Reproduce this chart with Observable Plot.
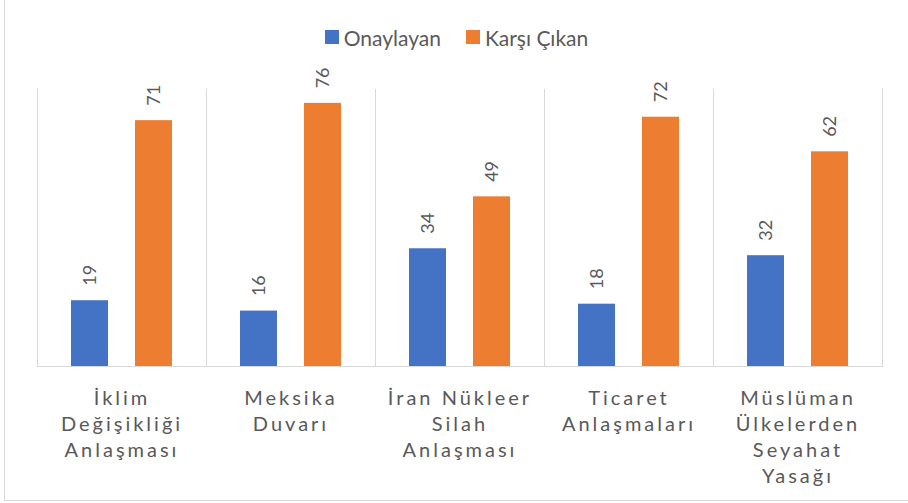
<!DOCTYPE html>
<html>
<head>
<meta charset="utf-8">
<script src="https://cdn.jsdelivr.net/npm/d3@7"></script>
<script src="https://cdn.jsdelivr.net/npm/@observablehq/plot@0.6"></script>
<style>
  html, body { margin: 0; padding: 0; background: #fff; overflow: hidden; }
  #wrap {
    position: absolute; left: 4px; top: 0; width: 920px; height: 501px;
    border-left: 1px solid #d9d9d9; border-bottom: 1px solid #d9d9d9;
    box-sizing: border-box; font-family: Lato, sans-serif;
  }
  #legend {
    height: 46px; padding-top: 14px; display: flex; justify-content: center;
    align-items: center; color: #595959; font-size: 21px; width: 903px;
  }
  .item { display: flex; align-items: center; }
  .item + .item { margin-left: 25px; }
  .sw { width: 14px; height: 14px; margin-right: 5px; }
  #chart svg { display: block; }
  g[font-size="20"] text { letter-spacing: 3px; }
</style>
</head>
<body>
<div id="wrap">
  <div id="legend"></div>
  <div id="chart"></div>
</div>
<script>
const categories = ["İklim Değişikliği Anlaşması", "Meksika Duvarı", "İran Nükleer Silah Anlaşması", "Ticaret Anlaşmaları", "Müslüman Ülkelerden Seyahat Yasağı"];
const tickLabels = ["İklim\nDeğişikliği\nAnlaşması", "Meksika\nDuvarı", "İran Nükleer\nSilah\nAnlaşması", "Ticaret\nAnlaşmaları", "Müslüman\nÜlkelerden\nSeyahat\nYasağı"];
const series = ["Onaylayan", "Karşı Çıkan"];
const approve = [19, 16, 34, 18, 32];
const oppose = [71, 76, 49, 72, 62];
const colors = ["#4472C4", "#ED7D31"];

const rows = categories.flatMap((c, i) => [
  {category: c, series: series[0], value: approve[i]},
  {category: c, series: series[1], value: oppose[i]}
]);

const legend = document.getElementById("legend");
series.forEach((s, i) => {
  const it = document.createElement("div");
  it.className = "item";
  it.innerHTML = `<div class="sw" style="background:${colors[i]}"></div><span>${s}</span>`;
  legend.appendChild(it);
});

const grid = "#d9d9d9";
const plot = Plot.plot({
  width: 903,
  height: 439,
  marginTop: 29,
  marginLeft: 30,
  marginRight: 24,
  marginBottom: 133,
  style: {fontFamily: "Lato, sans-serif", background: "transparent"},
  fx: {domain: categories, padding: 0, axis: null},
  x: {domain: series, axis: null, paddingInner: 0.415, paddingOuter: 0.515},
  y: {domain: [0, 80], axis: null},
  color: {domain: series, range: colors},
  marks: [
    Plot.frame({anchor: "left", stroke: grid}),
    Plot.frame({anchor: "right", stroke: grid}),
    Plot.barY(rows, {fx: "category", x: "series", y: "value", fill: "series"}),
    Plot.ruleY([0], {stroke: grid}),
    Plot.text(rows, {fx: "category", x: "series", y: "value", text: d => String(d.value),
      rotate: -90, textAnchor: "start", dy: -15, fill: "#595959", fontSize: 18}),
    Plot.text(categories, {fx: d => d, y: 0, text: (d, i) => tickLabels[categories.indexOf(d)],
      lineAnchor: "top", dy: 20, lineHeight: 1.3, fill: "#595959", fontSize: 20})
  ]
});
document.getElementById("chart").appendChild(plot);
</script>
</body>
</html>
